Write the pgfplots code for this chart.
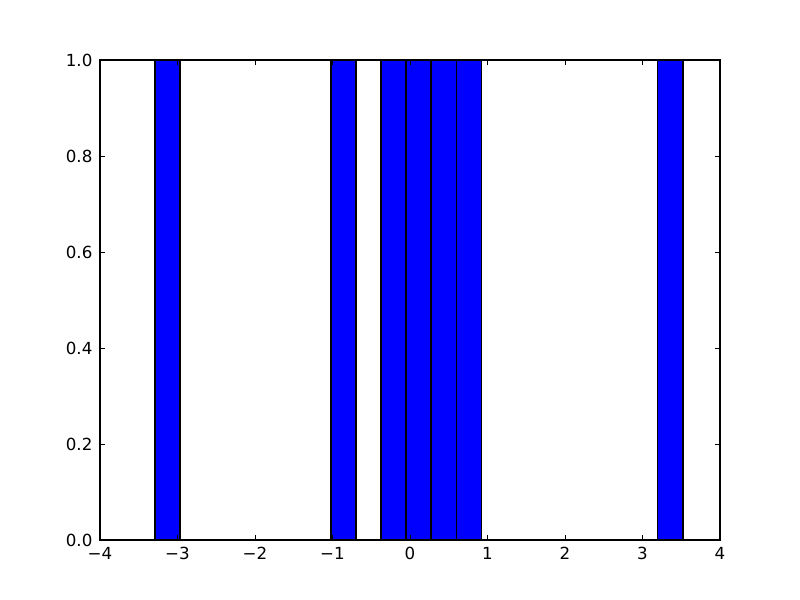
\documentclass[border=0pt]{standalone}
\usepackage{pgfplots}
\pgfplotsset{compat=1.18}
\usepackage{fontspec}
\setmainfont{DejaVu Sans}
\pgfplotstableread{
x y
-3.294 1
-2.970 0
-2.645 0
-2.321 0
-1.996 0
-1.672 0
-1.347 0
-1.023 1
-0.699 0
-0.375 1
-0.050 1
0.274 1
0.598 1
0.923 0
1.247 0
1.572 0
1.896 0
2.220 0
2.545 0
2.869 0
3.194 1
3.519 1
}\histdata
\pgfplotstableread{
x y
-3.294 1
-2.970 1
-1.023 1
-0.699 1
-0.375 1
-0.050 1
0.274 1
0.598 1
0.923 1
3.194 1
3.519 1
}\edgedata
\begin{document}
\begin{tikzpicture}
\path[use as bounding box] (-75bp,-45bp) rectangle (525bp,405bp);
\begin{axis}[
  scale only axis,
  width=465bp, height=360bp,
  xmin=-4, xmax=4, ymin=0, ymax=1,
  xtick={-4,-3,-2,-1,0,1,2,3,4},
  xticklabels={−4,−3,−2,−1,0,1,2,3,4},
  ytick={0,0.2,0.4,0.6,0.8,1.0},
  yticklabels={0.0,0.2,0.4,0.6,0.8,1.0},
  tick align=inside,
  major tick length=4bp,
  tick style={black, line width=0.7bp},
  axis line style={black, line width=0.8bp},
  axis on top,
  ticklabel style={font=\fontsize{12.5bp}{14bp}\selectfont, inner sep=0pt},
  xticklabel style={anchor=north, yshift=-5.5bp},
  yticklabel style={anchor=east, xshift=-5.5bp},
  minor tick num=0,
]
\addplot[ybar interval, fill={rgb,255:red,0;green,0;blue,255}, draw=none] table[x=x,y=y] {\histdata};
\addplot[ycomb, black, line width=1.2bp, mark=none] table[x=x,y=y] {\edgedata};
\end{axis}
\end{tikzpicture}
\end{document}
